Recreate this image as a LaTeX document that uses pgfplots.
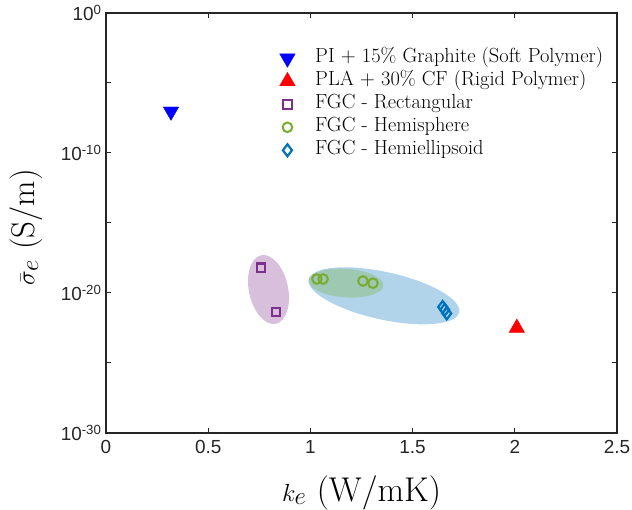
\documentclass[border=0pt]{standalone}
\usepackage{pgfplots}
\pgfplotsset{compat=1.18}
\usepackage{fontspec}
\newfontfamily\arial{Liberation Sans}
\definecolor{mpurple}{rgb}{0.494,0.184,0.556}
\definecolor{mgreen}{rgb}{0.466,0.674,0.188}
\definecolor{mblue}{rgb}{0,0.447,0.741}
\definecolor{axgray}{rgb}{0.15,0.15,0.15}
\begin{document}
\begin{tikzpicture}
\begin{axis}[
  set layers,
  scale only axis,
  width=511bp, height=420bp,
  ymode=log,
  xmin=0, xmax=2.5, ymin=1e-30, ymax=1,
  xtick={0,0.5,1,1.5,2,2.5},
  xticklabels={0,0.5,1,1.5,2,2.5},
  ytick={1e-30,1e-25,1e-20,1e-15,1e-10,1e-5,1},
  yticklabels={10\textsuperscript{-30},,10\textsuperscript{-20},,10\textsuperscript{-10},,10\textsuperscript{0}},
  minor ytick={},
  ticklabel style={font=\arial\fontsize{19}{19}\selectfont, text=axgray},
  xticklabel style={yshift=-4bp},
  yticklabel style={xshift=-1bp},
  tick align=inside,
  major tick length=5bp,
  tick style={axgray, line width=1bp},
  axis line style={axgray, line width=1.3bp},
  xlabel={$k_e$ (W/mK)},
  ylabel={$\bar{\sigma}_e$ (S/m)},
  xlabel style={font=\fontsize{34.5}{36}\selectfont, at={(axis description cs:0.5,-0.162)}, anchor=base},
  ylabel style={font=\fontsize{33}{36}\selectfont, at={(axis description cs:-0.14,0.49)}, anchor=base, rotate=0},
  legend style={at={(axis description cs:0.3395,0.920)}, anchor=north west, draw=none, fill=none,
    inner sep=0pt, row sep=0pt, font=\fontsize{20.5}{22}\selectfont,
    nodes={inner ysep=0pt, text height=16bp, text depth=7bp},
    /tikz/every odd column/.append style={column sep=18bp}},
  legend cell align=left,
]
\fill[on layer=axis background, mpurple, opacity=0.3] (axis cs:0.795,1.78e-20) ellipse[x radius=19.6bp, y radius=35bp, rotate=12];
\fill[on layer=axis background, mblue, opacity=0.3] (axis cs:1.36,6.3e-21) ellipse[x radius=77bp, y radius=23.8bp, rotate=-12.4];
\fill[on layer=axis background, mgreen, opacity=0.3] (axis cs:1.174,5.1e-20) ellipse[x radius=37.5bp, y radius=14.3bp, rotate=-4];

\addplot[only marks, mark=triangle*, mark size=9, color=blue, mark options={rotate=180, fill=blue, draw=blue}]
  coordinates {(0.318,9.3e-8)};
\addlegendentry{PI $+$ 15\% Graphite (Soft Polymer)}
\addplot[only marks, mark=triangle*, mark size=9, color=red, mark options={fill=red, draw=red}]
  coordinates {(2.01,3.2e-23)};
\addlegendentry{PLA $+$ 30\% CF (Rigid Polymer)}
\addplot[only marks, mark=square, mark size=4.3, color=mpurple, mark options={line width=2.1bp}]
  coordinates {(0.758,6.3e-19) (0.832,4.4e-22)};
\addlegendentry{FGC - Rectangular}
\addplot[only marks, mark=o, mark size=4.8, color=mgreen, mark options={line width=2bp}]
  coordinates {(1.032,1e-19) (1.062,1e-19) (1.257,7.2e-20) (1.306,5e-20)};
\addlegendentry{FGC - Hemisphere}
\addplot[only marks, mark=diamond, mark size=6, color=mblue, mark options={line width=2.2bp}]
  coordinates {(1.647,1e-21) (1.657,6.3e-22) (1.667,3.5e-22)};
\addlegendentry{FGC - Hemiellipsoid}
\end{axis}
\pgfresetboundingbox
\path ([shift={(-106bp,-77bp)}]current axis.south west) rectangle ([shift={(15bp,13bp)}]current axis.north east);
\end{tikzpicture}
\end{document}
